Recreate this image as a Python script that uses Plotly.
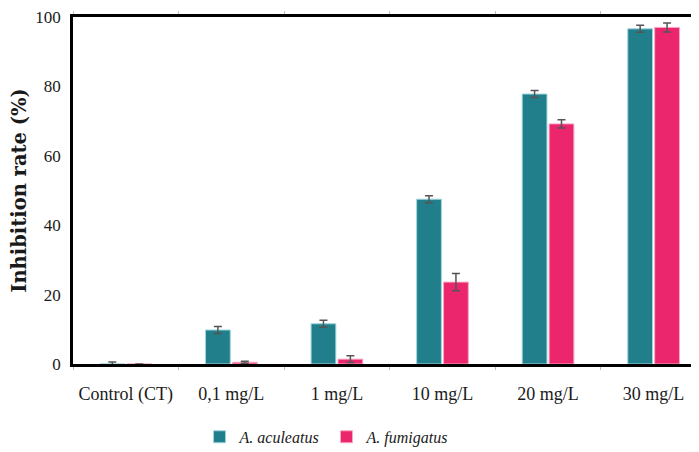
import plotly.graph_objects as go

categories = ["Control (CT)", "0,1 mg/L", "1 mg/L", "10 mg/L", "20 mg/L", "30 mg/L"]
aculeatus = [0.0, 9.8, 11.6, 47.5, 77.8, 96.6]
aculeatus_err = [0.6, 1.0, 1.0, 1.0, 1.0, 1.0]
fumigatus = [0.0, 0.5, 1.4, 23.6, 69.2, 97.0]
fumigatus_err = [0.0, 0.3, 1.0, 2.5, 1.2, 1.3]

teal = "#217f8c"
pink = "#ec266c"
font_family = "Times New Roman, Liberation Serif, serif"

fig = go.Figure()
fig.add_trace(go.Bar(
    x=categories, y=aculeatus, name="<i>A. aculeatus</i>",
    marker=dict(color=teal, line=dict(color="#9fd6dc", width=1)),
    error_y=dict(type="data", array=aculeatus_err, color="#555555", thickness=1.5, width=4),
))
fig.add_trace(go.Bar(
    x=categories, y=fumigatus, name="<i>A. fumigatus</i>",
    marker=dict(color=pink, line=dict(color="#f7a8c4", width=1)),
    error_y=dict(type="data", array=fumigatus_err, color="#555555", thickness=1.5, width=4),
))

fig.update_layout(
    width=691, height=444,
    margin=dict(l=65, r=0, t=9, b=88, autoexpand=False),
    paper_bgcolor="white", plot_bgcolor="white",
    barmode="group", bargap=0.49, bargroupgap=0.08,
    font=dict(family=font_family, size=16, color="#1a1a1a"),
    legend=dict(orientation="h", x=0.405, xanchor="center", y=-0.21, yanchor="middle",
                font=dict(size=16), itemwidth=30, entrywidth=82, traceorder="normal"),
    xaxis=dict(range=[-0.5, 5.43], showline=True, linecolor="black", linewidth=2.5,
               mirror="allticks", tickson="boundaries", ticks="outside", ticklen=3,
               tickcolor="#bbbbbb", ticklabelstandoff=12, showgrid=False,
               automargin=False, tickfont=dict(size=18)),
    yaxis=dict(range=[0, 100], dtick=20, showline=True, linecolor="black", linewidth=2.5,
               showgrid=False, zeroline=False, ticks="", ticklabelstandoff=6,
               ticklabeloverflow="allow",
               automargin=False, tickfont=dict(size=17),
               title=dict(text="<b>Inhibition rate (%)</b>",
                          font=dict(size=19.5, family="DejaVu Serif"), standoff=10)),
)

fig.write_html("out.html")
